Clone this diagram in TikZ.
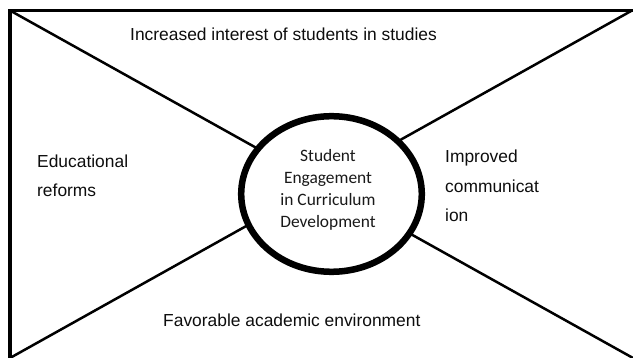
\documentclass[tikz,border=0pt]{standalone}
\usepackage{fontspec}
\setmainfont{Liberation Sans}
\newfontfamily\hubfont{Carlito}
\usetikzlibrary{shapes.geometric}
\begin{document}
\begin{tikzpicture}[x=1pt,y=-1pt,
  lbl/.style={font=\fontsize{17.4}{29.5}\selectfont, text=black!95, inner sep=0, anchor=base west, align=left},
  hub/.style={ellipse, draw, line width=6.5pt, fill=white, minimum width=180.6pt, minimum height=155.6pt, inner sep=0},
  hubtext/.style={font=\hubfont\fontsize{17.4}{22.3}\selectfont, text=black!90, inner sep=0, anchor=base, align=center},
  frame/.style={line width=3.5pt, line cap=rect},
  spoke/.style={line width=2.5pt}]
\useasboundingbox (0,0) rectangle (633,358);
% corners
\coordinate (TL) at (10,10.5);
\coordinate (TR) at (632,10.5);
\coordinate (BL) at (10,362);
\coordinate (BLd) at (10,358);
\coordinate (BRd) at (633,358);
% frame
\draw[frame] (BL) -- (TL) -- (TR);
% diagonals
\draw[spoke] (TL) -- (BRd);
\draw[spoke] (TR) -- (BLd);
% central ellipse
\node[hub] (center) at (331.5,194) {};
\node[hubtext] (centertext) at (328,228) {Student\\Engagement\\in Curriculum\\Development};
% labels
\node[lbl] (top) at (130,41) {Increased interest of students in studies};
\node[lbl] (left) at (37,197) {Educational\\reforms};
\node[lbl] (right) at (445,222) {Improved\\communicat\\ion};
\node[lbl] (bottom) at (163,327) {Favorable academic environment};
\end{tikzpicture}
\end{document}
